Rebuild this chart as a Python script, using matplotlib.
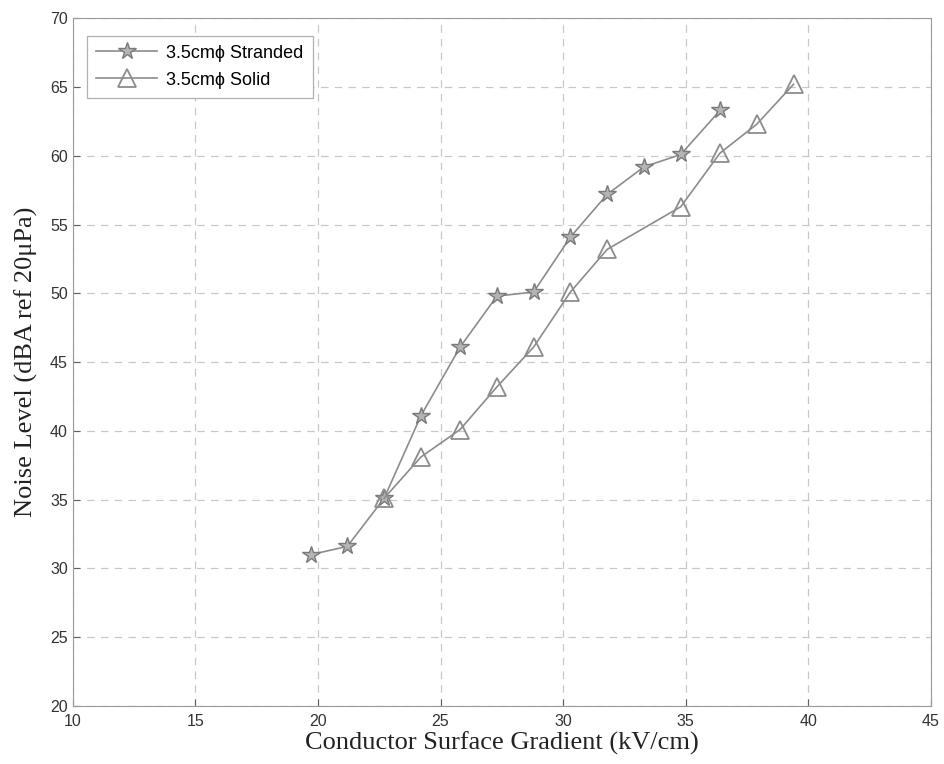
import numpy as np
import matplotlib.pyplot as plt

# gradient (kV/cm) and noise level (dBA) for the two conductors
stranded_x = [19.7, 21.2, 22.7, 24.2, 25.8, 27.3, 28.8, 30.3, 31.8, 33.3, 34.8, 36.4]
stranded_y = [31.0, 31.6, 35.1, 41.1, 46.1, 49.8, 50.1, 54.1, 57.2, 59.2, 60.1, 63.3]
solid_x = [22.7, 24.2, 25.8, 27.3, 28.8, 30.3, 31.8, 34.8, 36.4, 37.9, 39.4]
solid_y = [35.1, 38.1, 40.1, 43.2, 46.1, 50.1, 53.2, 56.3, 60.2, 62.3, 65.2]

xticks = np.arange(10, 46, 5)
yticks = np.arange(20, 71, 5)

sans = ['Liberation Sans', 'DejaVu Sans']
serif = ['Liberation Serif', 'DejaVu Serif']

fig = plt.figure(figsize=(9.45, 7.64), dpi=100)
ax = fig.add_axes([0.077, 0.076, 0.908, 0.9])

ax.plot(stranded_x, stranded_y, color='#8c8c8c', lw=1.2, marker='*', markersize=13,
        markerfacecolor='#b4b4b4', markeredgecolor='#7a7a7a', markeredgewidth=1.0,
        label='3.5cm\u03d5 Stranded')
ax.plot(solid_x, solid_y, color='#8c8c8c', lw=1.2, marker='^', markersize=13,
        markerfacecolor='none', markeredgecolor='#8c8c8c', markeredgewidth=1.3,
        label='3.5cm\u03d5 Solid')

ax.set_xlim(10, 45)
ax.set_ylim(20, 70)
ax.set_xticks(xticks)
ax.set_yticks(yticks)
ax.grid(True, linestyle=(0, (6, 5)), color='#c8c8c8', linewidth=0.9)
ax.tick_params(direction='in', length=5, color='#606060', labelsize=11.5, labelcolor='#333333')
ax.tick_params(axis='x', pad=6)
for lab in ax.get_xticklabels() + ax.get_yticklabels():
    lab.set_family(sans)
for s in ax.spines.values():
    s.set_color('#9a9a9a')

ax.set_xlabel('Conductor Surface Gradient (kV/cm)', family=serif, fontsize=19, color='#222222', labelpad=2)
ax.set_ylabel('Noise Level (dBA ref 20\u03bcPa)', family=serif, fontsize=19, color='#222222', labelpad=9)

leg = ax.legend(loc='upper left', bbox_to_anchor=(0.006, 0.988), prop={'family': sans, 'size': 13},
                fancybox=False, framealpha=1, edgecolor='#b0b0b0', handlelength=3.4,
                borderpad=0.5, labelspacing=0.55, handletextpad=0.5)
leg.get_frame().set_linewidth(0.9)

fig.savefig('out.png', dpi=100)
